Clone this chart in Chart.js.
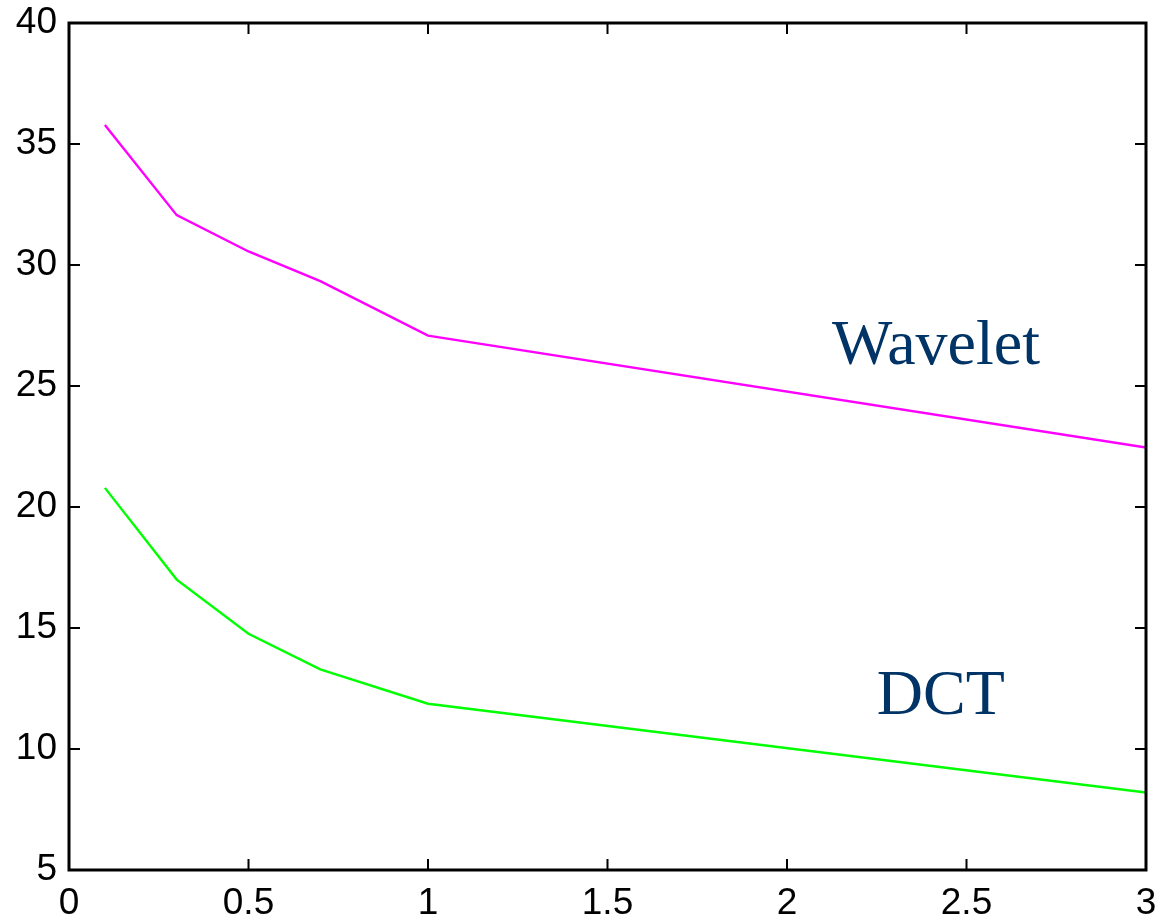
<!DOCTYPE html>
<html lang="en">
<head>
  <meta charset="UTF-8" />
  <title>Wavelet vs DCT</title>
  <script src="https://cdn.jsdelivr.net/npm/chart.js"></script>
  <style>
    html, body { margin: 0; padding: 0; background: #fff; }
  </style>
</head>
<body>
<canvas id="chart" width="1160" height="921"></canvas>
<script>
// bit rate samples and error curves
const xValues = [0.1, 0.3, 0.5, 0.7, 1, 3];
const waveletValues = [35.79, 32.06, 30.56, 29.33, 27.08, 22.46];
const dctValues = [20.79, 17.0, 14.76, 13.29, 11.87, 8.2];

const xTicks = [0, 0.5, 1, 1.5, 2, 2.5, 3];
const yTicks = [5, 10, 15, 20, 25, 30, 35, 40];

// curve names written next to each line (x, baseline y in data units)
const curveLabels = [
  { text: 'Wavelet', x: 2.125, y: 25.92 },
  { text: 'DCT', x: 2.25, y: 11.43 }
];

const toPoints = vals => vals.map((v, i) => ({ x: xValues[i], y: v }));

// box frame, inward ticks on all four sides, and the curve names
const frame = {
  id: 'frame',
  afterDatasetsDraw(chart) {
    const { ctx, chartArea: a, scales: { x, y } } = chart;
    const len = 11;
    ctx.save();
    ctx.strokeStyle = '#000';
    ctx.lineWidth = 2;
    ctx.beginPath();
    xTicks.forEach(t => {
      const px = x.getPixelForValue(t);
      ctx.moveTo(px, a.bottom); ctx.lineTo(px, a.bottom - len);
      ctx.moveTo(px, a.top); ctx.lineTo(px, a.top + len);
    });
    yTicks.forEach(t => {
      const py = y.getPixelForValue(t);
      ctx.moveTo(a.left, py); ctx.lineTo(a.left + len, py);
      ctx.moveTo(a.right, py); ctx.lineTo(a.right - len, py);
    });
    ctx.stroke();
    ctx.lineWidth = 3;
    ctx.strokeRect(a.left, a.top, a.right - a.left, a.bottom - a.top);

    ctx.fillStyle = '#003366';
    ctx.font = '64px "Liberation Serif", "Times New Roman", serif';
    ctx.textAlign = 'left';
    ctx.textBaseline = 'alphabetic';
    curveLabels.forEach(l => {
      ctx.fillText(l.text, x.getPixelForValue(l.x), y.getPixelForValue(l.y));
    });
    ctx.restore();
  }
};

const tickFont = { family: '"Liberation Sans", Arial, sans-serif', size: 37 };

new Chart(document.getElementById('chart'), {
  type: 'line',
  data: {
    datasets: [
      { label: 'Wavelet', data: toPoints(waveletValues), borderColor: '#ff00ff', borderWidth: 2.4 },
      { label: 'DCT', data: toPoints(dctValues), borderColor: '#00ff00', borderWidth: 2.4 }
    ]
  },
  options: {
    responsive: false,
    animation: false,
    layout: { padding: { top: 23, right: 14, left: 0, bottom: 0 } },
    elements: { point: { radius: 0 }, line: { tension: 0 } },
    plugins: { legend: { display: false }, tooltip: { enabled: false } },
    scales: {
      x: {
        type: 'linear',
        min: 0,
        max: 3,
        afterFit: s => { s.height = 51; s.paddingLeft = 0; s.paddingRight = 0; },
        afterBuildTicks: s => { s.ticks = xTicks.map(v => ({ value: v })); },
        grid: { display: false, drawTicks: false },
        border: { display: false },
        ticks: {
          padding: 12,
          color: '#000',
          maxRotation: 0,
          font: tickFont,
          callback: v => String(v)
        }
      },
      y: {
        min: 5,
        max: 40,
        afterFit: s => { s.width = 69; s.paddingTop = 0; s.paddingBottom = 0; },
        afterBuildTicks: s => { s.ticks = yTicks.map(v => ({ value: v })); },
        grid: { display: false, drawTicks: false },
        border: { display: false },
        ticks: {
          padding: 12,
          color: '#000',
          font: tickFont,
          callback: v => String(v)
        }
      }
    }
  },
  plugins: [frame]
});
</script>
</body>
</html>
